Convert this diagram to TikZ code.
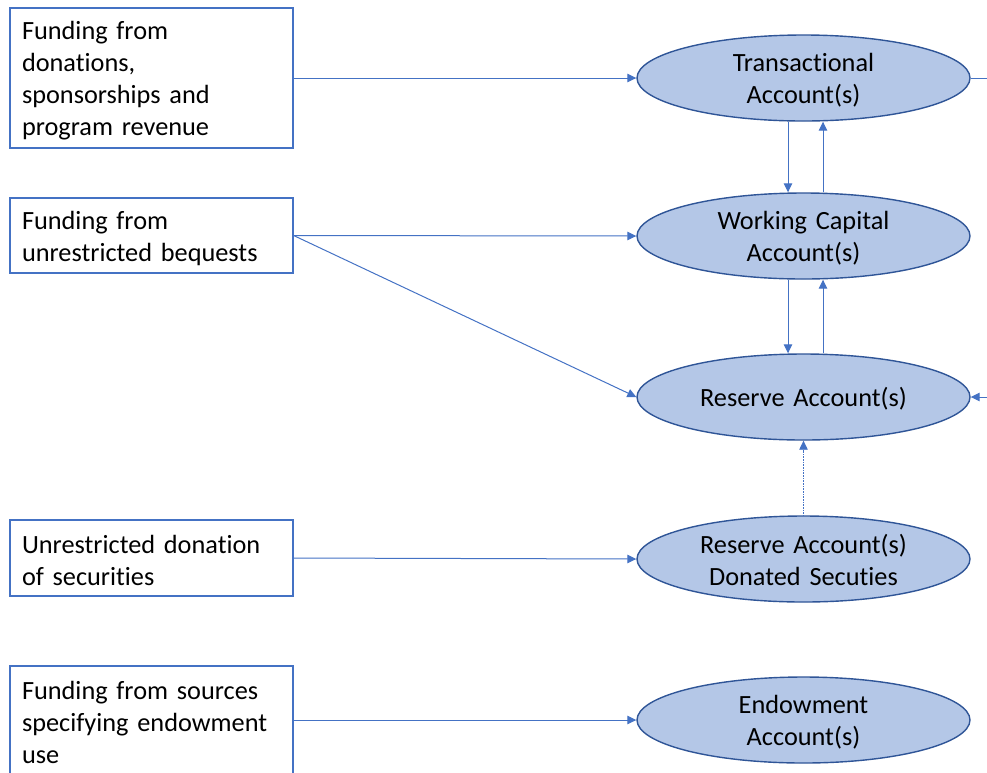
\documentclass[tikz,border=0pt]{standalone}
\usepackage{fontspec}
\setmainfont{Carlito}[Ligatures=NoCommon]
\usetikzlibrary{shapes.geometric,arrows.meta}
\definecolor{lineblue}{HTML}{4472C4}
\definecolor{fillblue}{HTML}{B4C7E7}
\definecolor{edgeblue}{HTML}{2F5597}

\begin{document}
\begin{tikzpicture}[
    x=1pt, y=-1pt,
    lines/.style={font=\fontsize{26.3}{32}\selectfont},
    source/.style={lines, text height=24pt, draw=lineblue, line width=1.3pt,
      minimum width=283pt, text width=259pt, inner xsep=12pt, inner ysep=0pt,
      align=left},
    account/.style={lines, text height=22pt, ellipse, draw=edgeblue,
      fill=fillblue, line width=1.4pt, minimum width=333pt, minimum height=86pt,
      text width=230pt, inner xsep=0pt, inner ysep=-4pt, align=center},
    flow/.style={draw=lineblue, line width=1pt,
      -{Triangle[length=9pt,width=8.5pt]}}
  ]
  \useasboundingbox (0,0) rectangle (987,772);

  \node[source, minimum height=140pt] (donations) at (151.5,78)
    {Funding from\\donations,\\sponsorships and\\program revenue};
  \node[source, minimum height=75pt] (bequests) at (151.5,235.5)
    {Funding from\\unrestricted bequests};
  \node[source, minimum height=76pt] (securities) at (151.5,558)
    {Unrestricted donation\\of securities};
  \node[source, minimum height=108pt] (sources) at (151.5,720)
    {Funding from sources\\specifying endowment\\use};

  \node[account] (trans) at (803.5,78)  {Transactional\\Account(s)};
  \node[account] (work)  at (803.5,236) {Working Capital\\Account(s)};
  \node[account] (res)   at (803.5,397) {Reserve Account(s)};
  \node[account] (resdon) at (803.5,559) {Reserve Account(s)\\Donated Secuties};
  \node[account] (endow) at (803.5,720) {Endowment\\Account(s)};

  \coordinate (outT) at (987,78);
  \coordinate (inR)  at (987,397);

  \draw[flow] (donations.east) -- (trans.west);
  \draw[flow] (bequests.east) -- (work.west);
  \draw[flow] (bequests.east) -- (res.west);
  \draw[flow] (securities.east) -- (resdon.west);
  \draw[flow] (sources.east) -- (endow.west);

  \draw[flow] ([xshift=-15.5pt]trans.south) -- ([xshift=-15.5pt]work.north);
  \draw[flow] ([xshift=19.5pt]work.north) -- ([xshift=19.5pt]trans.south);
  \draw[flow] ([xshift=-15.5pt]work.south) -- ([xshift=-15.5pt]res.north);
  \draw[flow] ([xshift=19.5pt]res.north) -- ([xshift=19.5pt]work.south);
  \draw[flow, line width=0.6pt, densely dotted] (resdon.north) -- (res.south);

  \draw[draw=lineblue, line width=1pt] (trans.east) -- (outT);
  \draw[flow] (inR) -- (res.east);
\end{tikzpicture}
\end{document}
